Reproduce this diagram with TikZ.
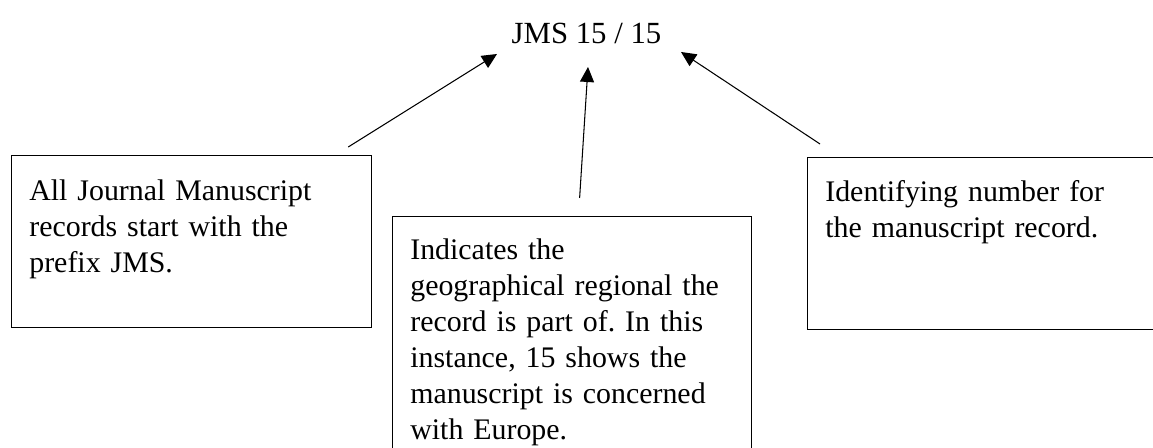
\documentclass[tikz,border=0pt]{standalone}
\usepackage{fontspec}
\setmainfont{Liberation Serif}
\frenchspacing
\usepackage{tikz}
\usetikzlibrary{arrows.meta, positioning, calc}
\tikzstyle{note} = [rectangle, draw=black, line width=0.7pt, minimum width=7.2cm, minimum height=3.44cm, anchor=north west, inner sep=0pt]
\tikzstyle{notetext} = [text width=7cm, align=left, anchor=base west, inner sep=0pt, font=\fontsize{17}{20.5}\selectfont]
\tikzstyle{arrow} = [line width=0.6pt, -{Triangle[length=3mm, width=2.8mm]}]

\begin{document}
\begin{tikzpicture}
\useasboundingbox (0,0) rectangle (23.06,8.96);
\clip (0,0) rectangle (23.06,8.96);

% Reference number
\node (title) [anchor=base, inner sep=0pt, font=\fontsize{17.5}{21}\selectfont] at (11.73,8.08) {JMS 15 / 15};

% Explanation boxes
\node (leftbox) [note] at (0.22,5.86) {};
\node (midbox) [note, minimum width=7.18cm, minimum height=4.9cm] at (7.84,4.64) {};
\node (rightbox) [note, minimum width=7.3cm] at (16.14,5.82) {};

\node (lefttext) [notetext] at (0.58,4.95) {All Journal Manuscript\\records start with the\\prefix JMS.};
\node (midtext) [notetext] at (8.20,3.77) {Indicates the\\geographical regional the\\record is part of. In this\\instance, 15 shows the\\manuscript is concerned\\with Europe.};
\node (righttext) [notetext] at (16.50,4.93) {Identifying number for\\the manuscript record.};

% Arrow ends
\coordinate (leftfoot) at ($(leftbox.north east)+(-0.48,0.16)$);
\coordinate (midfoot) at ($(midbox.north)+(0.15,0.36)$);
\coordinate (rightfoot) at ($(rightbox.north west)+(0.26,0.26)$);
\coordinate (lefthead) at ($(title.base)+(-1.79,-0.20)$);
\coordinate (midhead) at ($(title.base)+(0.03,-0.46)$);
\coordinate (righthead) at ($(title.base)+(1.89,-0.16)$);

% Arrows
\draw [arrow] (leftfoot) -- (lefthead);
\draw [arrow] (midfoot) -- (midhead);
\draw [arrow] (rightfoot) -- (righthead);

\end{tikzpicture}
\end{document}
